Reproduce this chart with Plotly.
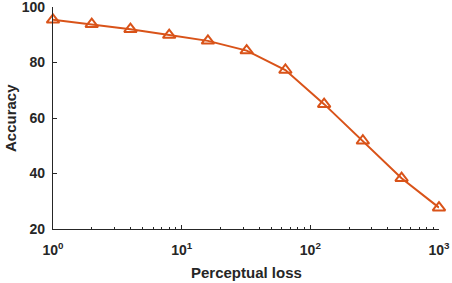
import plotly.graph_objects as go

perceptual_loss = [1, 2, 4, 8, 16, 32, 64, 128, 256, 512, 1000]
accuracy = [95.4, 93.8, 92.0, 89.9, 87.8, 84.3, 77.3, 65.0, 51.8, 38.3, 27.7]

x_tick_vals = [1, 10, 100, 1000]
x_tick_text = ["10<sup>0</sup>", "10<sup>1</sup>", "10<sup>2</sup>", "10<sup>3</sup>"]
y_tick_vals = [20, 40, 60, 80, 100]

minor_vals = [m * 10 ** d for d in range(3) for m in range(2, 10)]

color = "#D95319"
axcol = "#262626"
font = dict(family="Liberation Sans, Arial, sans-serif", size=14, color=axcol, weight="bold")

fig = go.Figure()
fig.add_trace(go.Scatter(
    x=perceptual_loss, y=accuracy, mode="lines+markers",
    line=dict(color=color, width=2),
    marker=dict(symbol="triangle-up-open", size=11, color=color, line=dict(width=2, color=color)),
    cliponaxis=False, showlegend=False,
))

fig.update_layout(
    width=452, height=283,
    margin=dict(l=53, r=13, t=7, b=54, autoexpand=False),
    plot_bgcolor="white", paper_bgcolor="white",
    font=font,
    annotations=[
        dict(text="Perceptual loss", xref="paper", yref="paper", x=0.5, y=0,
             xanchor="center", yanchor="middle", yshift=-43, showarrow=False,
             font=dict(size=15, color=axcol, weight="bold")),
        dict(text="Accuracy", xref="paper", yref="paper", x=0, y=0.5,
             xanchor="center", yanchor="middle", xshift=-43, textangle=-90, showarrow=False,
             font=dict(size=15, color=axcol, weight="bold")),
    ],
)
fig.update_xaxes(
    type="log", range=[0, 3.0001],
    tickvals=x_tick_vals, ticktext=x_tick_text,
    ticks="inside", ticklen=4, tickcolor=axcol, tickwidth=1,
    minor=dict(tickvals=minor_vals, ticks="inside", ticklen=2, tickcolor=axcol, tickwidth=1),
    showline=True, linecolor=axcol, linewidth=1.2, showgrid=False, zeroline=False,
    tickfont=dict(size=14), automargin=False, ticklabeloverflow="allow",
    ticklabelstandoff=8,
)
fig.update_yaxes(
    range=[20, 100.001], tickvals=y_tick_vals,
    ticks="inside", ticklen=4, tickcolor=axcol, tickwidth=1,
    showline=True, linecolor=axcol, linewidth=1.2, showgrid=False, zeroline=False,
    tickfont=dict(size=14), automargin=False, ticklabeloverflow="allow",
    ticklabelstandoff=4,
)

fig.write_html("out.html", config={"displayModeBar": False})
with open("out.html", encoding="utf-8") as f:
    html = f.read()
html = html.replace("<head>", "<head><style>html,body{margin:0;padding:0;overflow:hidden;}</style>", 1)
with open("out.html", "w", encoding="utf-8") as f:
    f.write(html)
